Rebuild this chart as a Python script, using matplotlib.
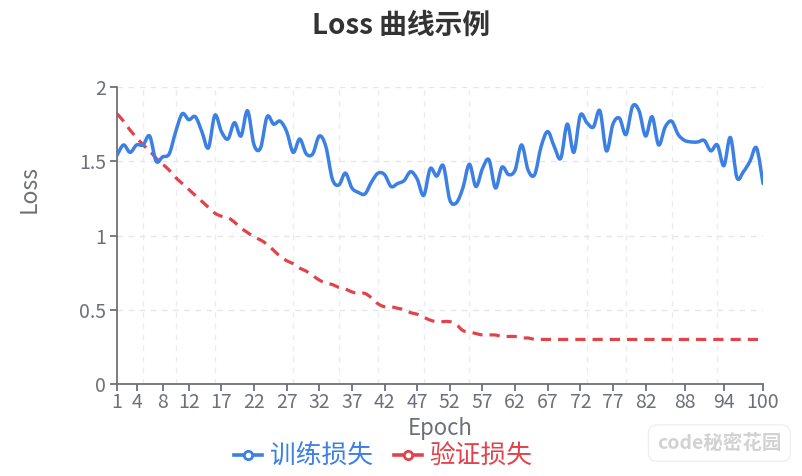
import numpy as np
import matplotlib
matplotlib.use("Agg")
import matplotlib.pyplot as plt
from matplotlib.path import Path
from matplotlib.patches import PathPatch
from matplotlib.lines import Line2D

plt.rcParams['font.family'] = ['Noto Sans CJK SC', 'DejaVu Sans']

# ---------------- data ----------------
epochs = list(range(1, 101))
train_loss = [
    1.54, 1.61, 1.56, 1.61, 1.61, 1.67, 1.50, 1.53, 1.55, 1.70,
    1.82, 1.78, 1.80, 1.70, 1.59, 1.81, 1.70, 1.65, 1.76, 1.67,
    1.84, 1.61, 1.59, 1.80, 1.75, 1.77, 1.70, 1.56, 1.65, 1.55,
    1.55, 1.67, 1.60, 1.38, 1.34, 1.42, 1.32, 1.29, 1.28, 1.36,
    1.42, 1.41, 1.33, 1.35, 1.37, 1.43, 1.38, 1.27, 1.45, 1.40,
    1.47, 1.24, 1.22, 1.32, 1.48, 1.33, 1.45, 1.51, 1.32, 1.46,
    1.41, 1.44, 1.61, 1.44, 1.41, 1.60, 1.70, 1.60, 1.52, 1.75,
    1.56, 1.81, 1.76, 1.73, 1.84, 1.57, 1.75, 1.79, 1.68, 1.87,
    1.84, 1.67, 1.80, 1.61, 1.73, 1.77, 1.68, 1.64, 1.63, 1.63,
    1.64, 1.57, 1.61, 1.47, 1.66, 1.39, 1.43, 1.50, 1.59, 1.35,
]
val_loss = [
    1.82, 1.77, 1.71, 1.66, 1.61, 1.57, 1.52, 1.48, 1.44, 1.39,
    1.35, 1.31, 1.27, 1.23, 1.19, 1.15, 1.13, 1.12, 1.09, 1.05,
    1.02, 0.99, 0.97, 0.94, 0.90, 0.86, 0.83, 0.81, 0.78, 0.76,
    0.73, 0.70, 0.68, 0.67, 0.65, 0.64, 0.62, 0.61, 0.61, 0.58,
    0.54, 0.52, 0.52, 0.51, 0.50, 0.48, 0.47, 0.45, 0.43, 0.42,
    0.42, 0.42, 0.40, 0.36, 0.35, 0.34, 0.33, 0.33, 0.33, 0.32,
    0.32, 0.32, 0.31, 0.31, 0.30, 0.30, 0.30, 0.30, 0.30, 0.30,
    0.30, 0.30, 0.30, 0.30, 0.30, 0.30, 0.30, 0.30, 0.30, 0.30,
    0.30, 0.30, 0.30, 0.30, 0.30, 0.30, 0.30, 0.30, 0.30, 0.30,
    0.30, 0.30, 0.30, 0.30, 0.30, 0.30, 0.30, 0.30, 0.30, 0.30,
]
x_tick_labels = [1, 4, 8, 12, 17, 22, 27, 32, 37, 42, 47, 52, 57, 62, 67,
                 72, 77, 82, 88, 94, 100]
y_ticks = [0, 0.5, 1, 1.5, 2]
series_names = ['训练损失', '验证损失']

title = 'Loss 曲线示例'

# ---------------- style ----------------
BLUE = '#3c80e4'
RED = '#e2434b'
AXIS = '#6e7079'
GRID = '#e6e6e6'


def smooth_path(x, y, k=1/6):
    pts = np.column_stack([np.asarray(x, float), np.asarray(y, float)])
    n = len(pts)
    verts = [pts[0]]
    codes = [Path.MOVETO]
    for i in range(n - 1):
        p0 = pts[i - 1] if i > 0 else pts[i]
        p1 = pts[i]
        p2 = pts[i + 1]
        p3 = pts[i + 2] if i + 2 < n else pts[i + 1]
        c1 = p1 + (p2 - p0) * k
        c2 = p2 - (p3 - p1) * k
        verts += [c1, c2, p2]
        codes += [Path.CURVE4] * 3
    return Path(verts, codes)


fig = plt.figure(figsize=(8.02, 4.76), dpi=100)
fig.patch.set_facecolor('white')
ax = fig.add_axes([0.1459, 0.1933, 0.8055, 0.6239])

ax.set_xlim(1, 100)
ax.set_ylim(0, 2)

# grid
ax.set_yticks(y_ticks)
ax.set_yticklabels([f'{v:g}' for v in y_ticks])
ax.set_xticks(x_tick_labels)
ax.set_xticklabels([str(v) for v in x_tick_labels])
ax.set_xticks([5, 10, 16, 22, 28, 35, 41, 48, 55, 62, 67, 73, 79, 86, 93, 100], minor=True)
ax.grid(True, axis='y', which='major', color=GRID, linestyle=(0, (4, 4)), linewidth=1)
ax.grid(True, axis='x', which='minor', color='#ececec', linestyle=(0, (4, 4)), linewidth=1)
ax.set_axisbelow(True)

for s in ['top', 'right']:
    ax.spines[s].set_visible(False)
for s in ['left', 'bottom']:
    ax.spines[s].set_color(AXIS)
    ax.spines[s].set_linewidth(1.3)

ax.tick_params(axis='both', which='major', colors=AXIS, labelsize=14,
               length=5, width=1.3, direction='out', pad=3)
ax.tick_params(axis='x', which='minor', length=0)
ax.tick_params(axis='x', which='major', pad=1)

# series
ax.add_patch(PathPatch(smooth_path(epochs, val_loss), fill=False,
                       edgecolor=RED, linewidth=2.3, linestyle=(0, (3.2, 2.2)),
                       capstyle='butt', zorder=3))
ax.add_patch(PathPatch(smooth_path(epochs, train_loss), fill=False,
                       edgecolor=BLUE, linewidth=2.5, joinstyle='round',
                       capstyle='round', zorder=4))

ax.set_xlabel('Epoch', fontsize=16, color=AXIS)
ax.xaxis.set_label_coords(0.5, -0.112)
ax.set_ylabel('Loss', fontsize=16.5, color=AXIS)
ax.yaxis.set_label_coords(-0.118, 0.655)

fig.text(0.5, 0.945, title, ha='center', va='center', fontsize=20,
         fontweight='bold', color='#333333')

handles = [
    Line2D([0], [0], color=BLUE, lw=2.6, marker='o', markersize=6,
           markerfacecolor='white', markeredgewidth=2),
    Line2D([0], [0], color=RED, lw=2.6, marker='o', markersize=6,
           markerfacecolor='white', markeredgewidth=2),
]
fig.legend(handles, series_names, loc='center', bbox_to_anchor=(0.478, 0.040),
           ncol=2, frameon=False, fontsize=18.5, labelcolor=[BLUE, RED],
           handlelength=1.1, handletextpad=0.3, columnspacing=0.8)

fig.text(0.897, 0.069, 'code秘密花园', ha='center', va='center', fontsize=14,
         color='#d2d2d2', fontweight='bold',
         bbox=dict(boxstyle='round,pad=0.45', fc='white', ec='#efefef'))

fig.savefig('out.png', dpi=100, facecolor='white')
